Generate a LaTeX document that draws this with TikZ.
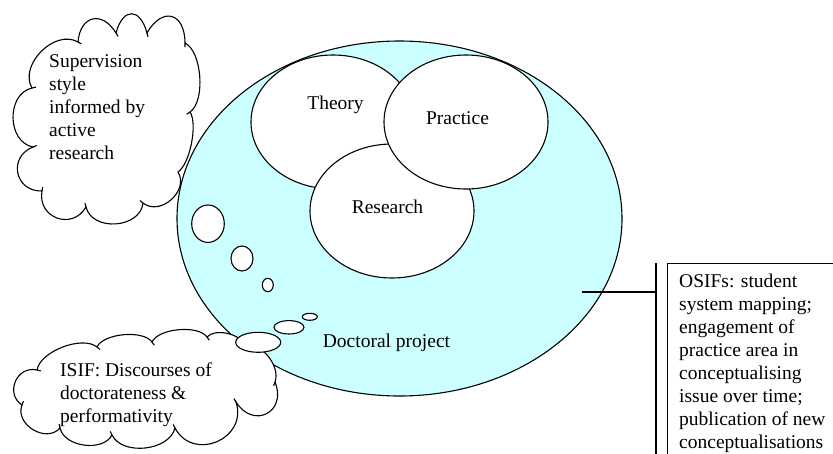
\documentclass[tikz,border=0pt]{standalone}
\usepackage{fontspec}
\setmainfont{Liberation Serif}
\usetikzlibrary{shapes.geometric,calc}
\definecolor{projectfill}{HTML}{CCFFFF}
\newcommand\stackedlines[1]{\begin{tabular}[t]{@{}l@{}}#1\end{tabular}}
\begin{document}
\begin{tikzpicture}[x=1pt,y=-1pt,
  outline/.style={draw=black, line width=1.1pt},
  oval/.style 2 args={ellipse, outline, fill=white, inner sep=0pt,
    minimum width=#1, minimum height=#2},
  label/.style={font=\fontsize{19.5}{23}\selectfont, inner sep=0pt, anchor=base},
  textblock/.style={font=\fontsize{19.5}{23}\selectfont, inner sep=0pt, anchor=base west},
]
\clip (0,0) rectangle (833,453);

% the doctoral project and its three areas
\node[oval={445pt}{355pt}, fill=projectfill] (project) at (399.5,218.5) {};
\node[oval={164pt}{134pt}] (theory)   at (333,122) {};
\node[oval={164pt}{134pt}] (research) at (392,211) {};
\node[oval={164pt}{134pt}] (practice) at (466,122) {};
\node[label] (theorylbl)   at (335.5,109) {Theory};
\node[label] (practicelbl) at (457.5,124) {Practice};
\node[label] (researchlbl) at (387.5,213) {Research};
\node[label] (projectlbl)  at (386.5,347) {Doctoral project};

% thought bubbles towards the upper cloud
\node[oval={32.6pt}{37.4pt}] (bubA) at (208,223.7) {};
\node[oval={22pt}{25pt}]     (bubB) at (242,258.5) {};
\node[oval={11pt}{13.4pt}]   (bubC) at (267.8,285) {};

% cloud: supervision style
\coordinate (t1) at (78,42);
\coordinate (t2) at (116,33);
\coordinate (t3) at (147,33);
\coordinate (t4) at (185,43);
\coordinate (t5) at (190,112);
\coordinate (t6) at (178,172);
\coordinate (t7) at (143,203);
\coordinate (t8) at (86,207);
\coordinate (t9) at (42,191);
\coordinate (t10) at (33,147);
\coordinate (t11) at (32,88);
\draw[outline, fill=white] (t1)
  foreach \b/\t/\l in {t2/72/1.75, t3/75/2.2, t4/75/2.0, t5/60/0.7, t6/45/0.6,
    t7/80/1.2, t8/80/1.15, t9/80/1.5, t10/80/1.55, t11/78/1.15, t1/75/1.05}
  { to[bend left=\t, looseness=\l] (\b) } -- cycle;
\foreach \a/\b/\t in {t1/t2/72, t2/t3/75, t3/t4/75, t4/t5/60, t6/t7/80,
    t7/t8/80, t8/t9/80, t9/t10/80, t10/t11/78, t11/t1/75}
  \draw[outline] let \p1=(\a), \p2=(\b), \n1={atan2(\y2-\y1,\x2-\x1)} in
    (\b) -- ++(\n1-\t:4pt);
\node[textblock] (suptext) at (49,67)
  {\stackedlines{Supervision\\style\\informed by\\active\\research}};

% cloud: internal discourses
\coordinate (c1) at (37,370);
\coordinate (c2) at (97,347);
\coordinate (c3) at (152,342);
\coordinate (c4) at (207,337);
\coordinate (c5) at (243,344);
\coordinate (c6) at (275,382);
\coordinate (c7) at (236,402);
\coordinate (c8) at (175,428);
\coordinate (c9) at (112,435);
\coordinate (c10) at (60,428);
\coordinate (c11) at (22,405);
\draw[outline, fill=white] (c1)
  foreach \b/\t/\l in {c2/60/0.75, c3/60/0.7, c4/60/0.7, c5/60/0.8, c6/60/0.9,
    c7/85/1.9, c8/85/1.5, c9/70/0.95, c10/70/0.95, c11/80/1.2, c1/80/1.4}
  { to[bend left=\t, looseness=\l] (\b) } -- cycle;
\foreach \a/\b/\t in {c1/c2/60, c2/c3/60, c3/c4/60, c5/c6/60, c6/c7/85,
    c7/c8/85, c8/c9/70, c9/c10/70, c10/c11/80, c11/c1/80}
  \draw[outline] let \p1=(\a), \p2=(\b), \n1={atan2(\y2-\y1,\x2-\x1)} in
    (\b) -- ++(\n1-\t:4pt);
\node[textblock] (isiftext) at (60,376)
  {\stackedlines{ISIF: Discourses of\\doctorateness \&\\performativity}};

% thought bubbles towards the lower cloud
\node[oval={15pt}{7pt}]     (bubD) at (309.8,316.8) {};
\node[oval={30pt}{13.4pt}]  (bubE) at (289,327.3) {};
\node[oval={45pt}{20pt}]    (bubF) at (258.2,342.3) {};

% external influences: callout box with accent bar
\node[outline, rectangle, anchor=north west, minimum width=180pt,
  minimum height=210pt, inner sep=0pt] (osif) at (667,263) {};
\coordinate (bartop) at (656,263);
\coordinate (barbot) at (656,470);
\coordinate (calltip) at (582,292);
\draw[outline] (bartop) -- (barbot);
\draw[outline] (calltip) -- (calltip -| bartop);
\node[textblock] (osiftext) at (679,287)
  {\stackedlines{OSIFs: student\\system mapping;\\engagement of\\practice area in\\conceptualising\\issue over time;\\publication of new\\conceptualisations}};
\end{tikzpicture}
\end{document}
